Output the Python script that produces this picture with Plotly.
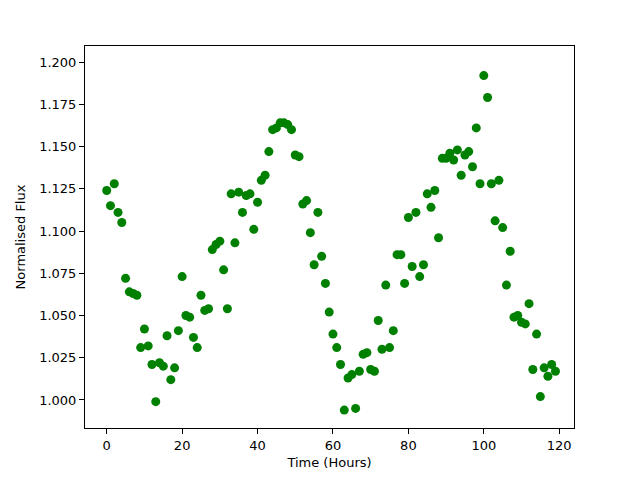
import plotly.graph_objects as go

hours = list(range(120))
flux = [1.124, 1.115, 1.128, 1.111, 1.105, 1.072, 1.064, 1.063, 1.062, 1.031,
        1.042, 1.032, 1.021, 0.999, 1.022, 1.020, 1.038, 1.012, 1.019, 1.041,
        1.073, 1.050, 1.049, 1.037, 1.031, 1.062, 1.053, 1.054, 1.089, 1.092,
        1.094, 1.077, 1.054, 1.122, 1.093, 1.123, 1.111, 1.121, 1.122, 1.101,
        1.117, 1.130, 1.133, 1.147, 1.160, 1.161, 1.164, 1.164, 1.163, 1.160,
        1.145, 1.144, 1.116, 1.118, 1.099, 1.080, 1.111, 1.085, 1.069, 1.052,
        1.039, 1.031, 1.021, 0.994, 1.013, 1.015, 0.995, 1.017, 1.027, 1.028,
        1.018, 1.017, 1.047, 1.030, 1.068, 1.031, 1.041, 1.086, 1.086, 1.069,
        1.108, 1.079, 1.111, 1.073, 1.080, 1.122, 1.114, 1.124, 1.096, 1.143,
        1.143, 1.146, 1.142, 1.148, 1.133, 1.145, 1.147, 1.138, 1.161, 1.128,
        1.192, 1.179, 1.128, 1.106, 1.130, 1.102, 1.068, 1.088, 1.049, 1.050,
        1.046, 1.045, 1.057, 1.018, 1.039, 1.002, 1.019, 1.014, 1.021, 1.017]

fig = go.Figure(go.Scatter(x=hours, y=flux, mode="markers",
                           marker=dict(color="green", size=9, line=dict(width=0))))

axis_common = dict(showline=True, linecolor="black", linewidth=1, mirror=True,
                   ticks="outside", tickcolor="black", ticklen=5, showgrid=False,
                   zeroline=False, tickfont=dict(size=13, color="black"))
fig.update_layout(
    width=640, height=480,
    margin=dict(l=70, r=74, t=38, b=60),
    paper_bgcolor="white", plot_bgcolor="white",
    font=dict(family="DejaVu Sans", size=13, color="black"),
    showlegend=False,
    xaxis=dict(range=[-5.76, 123.92], tickvals=[0, 20, 40, 60, 80, 100, 120],
               title=dict(text="Time (Hours)", standoff=6, font=dict(size=13)), **axis_common),
    yaxis=dict(range=[0.9834, 1.2095], tickvals=[1.0 + 0.025 * i for i in range(9)],
               tickformat=".3f",
               title=dict(text="Normalised Flux", standoff=10, font=dict(size=13)), **axis_common),
)
fig.write_html("out.html")
